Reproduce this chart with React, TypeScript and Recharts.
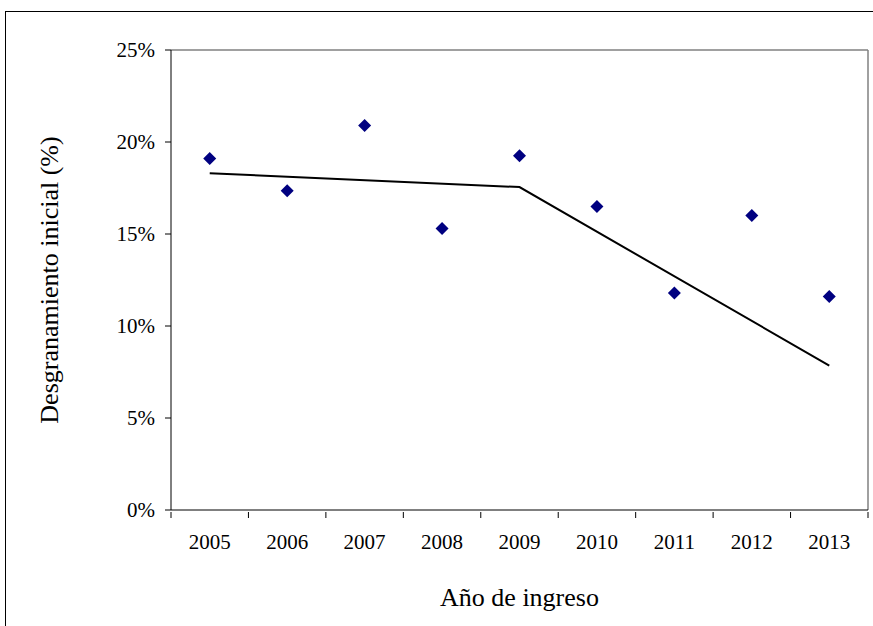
import React from 'react';
import { ComposedChart, Scatter, Line, XAxis, YAxis, ReferenceLine } from 'recharts';

const years = [2005, 2006, 2007, 2008, 2009, 2010, 2011, 2012, 2013];
const rates = [19.1, 17.35, 20.9, 15.3, 19.25, 16.5, 11.8, 16.0, 11.6];
// trend only has knots at 2005, 2009 and 2013
const trend: (number | null)[] = [18.3, null, null, null, 17.55, null, null, null, 7.85];
const yTicks = [0, 5, 10, 15, 20, 25];
const bounds = [2004.5, 2005.5, 2006.5, 2007.5, 2008.5, 2009.5, 2010.5, 2011.5, 2012.5, 2013.5];

const data = years.map((year, i) => ({ year, rate: rates[i], trend: trend[i] }));
const xTicks = [...bounds, ...years].sort((a, b) => a - b);

const FONT = '"Liberation Serif", "Times New Roman", serif';

const Diamond = (props: any) => {
    const { cx, cy } = props;
    const r = 6.5;
    return <polygon points={`${cx},${cy - r} ${cx + r},${cy} ${cx},${cy + r} ${cx - r},${cy}`} fill="#000080" />;
};

const XTick = (props: any) => {
    const { x, y, payload } = props;
    if (Number.isInteger(payload.value)) {
        return (
            <text x={x} y={y + 31} textAnchor="middle" fontSize={21} fontFamily={FONT} fill="#000">
                {payload.value}
            </text>
        );
    }
    return <line x1={x} y1={y - 6} x2={x} y2={y} stroke="#000" strokeWidth={1} />;
};

export default function App() {
    return (
        <div style={{ position: 'absolute', left: 0, top: 0, width: 873, height: 626, background: '#fff', overflow: 'hidden' }}>
            <div style={{ position: 'absolute', left: 5, top: 11, width: 900, height: 700, borderTop: '1px solid #000', borderLeft: '1px solid #000' }} />
            <div style={{ position: 'absolute', left: 0, top: 0 }}>
                <ComposedChart width={873} height={626} data={data} margin={{ top: 50, right: 5, bottom: 0, left: 21 }}>
                    <XAxis
                        dataKey="year"
                        type="number"
                        domain={[2004.5, 2013.5]}
                        ticks={xTicks}
                        interval={0}
                        tickLine={false}
                        tickSize={6}
                        tick={<XTick />}
                        stroke="#000"
                        height={116}
                        label={{ value: 'Año de ingreso', position: 'insideBottom', offset: 20, fontSize: 26, fontFamily: FONT, fill: '#000' }}
                    />
                    <YAxis
                        type="number"
                        domain={[0, 25]}
                        ticks={yTicks}
                        interval={0}
                        tickFormatter={(v: number) => `${v}%`}
                        tick={{ fontSize: 21, fontFamily: FONT, fill: '#000' }}
                        tickSize={6}
                        tickMargin={10}
                        stroke="#000"
                        width={150}
                        label={{ value: 'Desgranamiento inicial (%)', angle: -90, position: 'insideLeft', offset: 28, fontSize: 26, fontFamily: FONT, fill: '#000', style: { textAnchor: 'middle' } }}
                    />
                    <ReferenceLine y={25} stroke="#808080" strokeWidth={1.5} />
                    <ReferenceLine x={2013.5} stroke="#808080" strokeWidth={1.5} />
                    <Line dataKey="trend" connectNulls stroke="#000" strokeWidth={2} dot={false} isAnimationActive={false} />
                    <Scatter dataKey="rate" shape={<Diamond />} isAnimationActive={false} />
                </ComposedChart>
            </div>
        </div>
    );
}
